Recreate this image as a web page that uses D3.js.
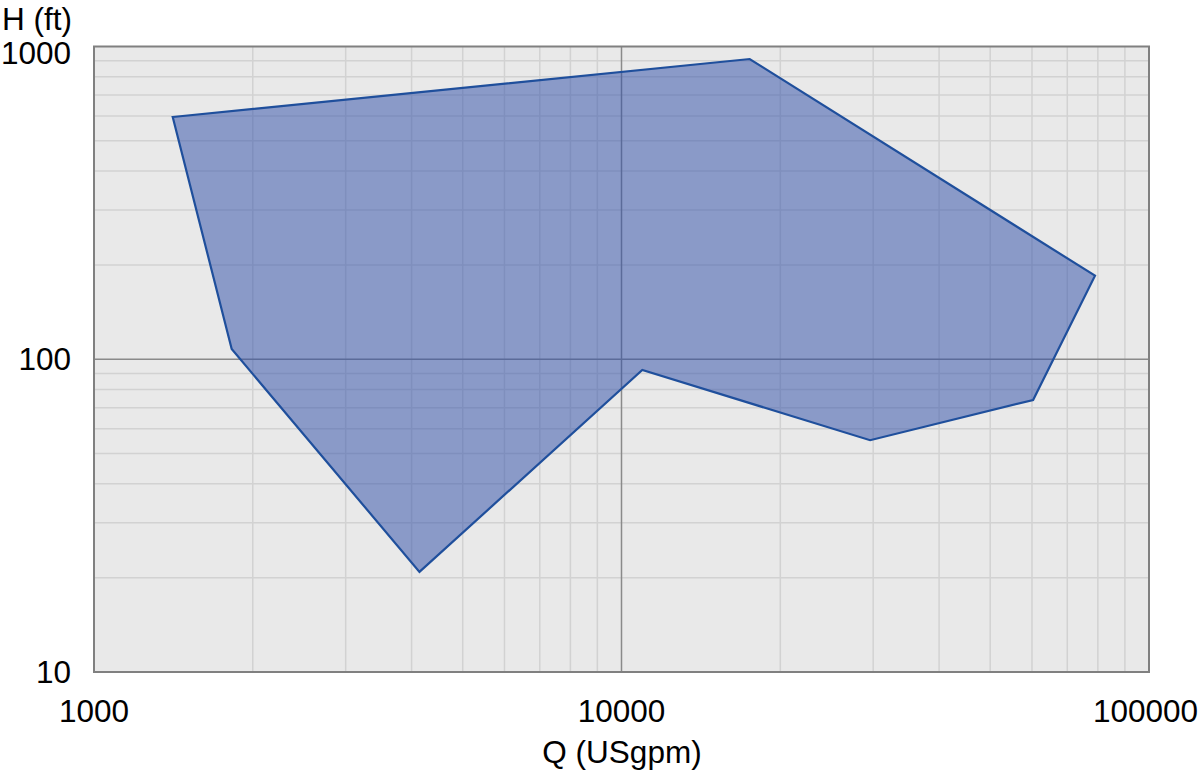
<!DOCTYPE html>
<html>
<head>
<meta charset="utf-8">
<script src="https://cdn.jsdelivr.net/npm/d3@7"></script>
<style>
  html, body { margin: 0; padding: 0; background: #fff; }
  svg { display: block; }
  text { font-family: "Liberation Sans", Arial, Helvetica, sans-serif; fill: #000; }
</style>
</head>
<body>
<div id="chart"></div>
<script>
// Operating envelope (polygon corners), flow Q in USgpm and head H in ft
const flowQ = [1410, 17500, 79000, 60300, 29600, 10950, 4140, 1824];
const headH = [595, 912, 185, 74.1, 55.1, 92.4, 20.9, 107.8];

const xTicks = [1000, 10000, 100000];
const yTicks = [10, 100, 1000];
const xTitle = "Q (USgpm)";
const yTitle = "H (ft)";

const W = 1200, H = 771;
const plot = { left: 94, top: 46.5, right: 1149, bottom: 672 };
const fontSize = "31.5px";

const svg = d3.select("#chart").append("svg")
    .attr("width", W)
    .attr("height", H);

const x = d3.scaleLog().domain([1000, 100000]).range([plot.left, plot.right]);
const y = d3.scaleLog().domain([10, 1000]).range([plot.bottom, plot.top]);

// background
svg.append("rect")
    .attr("x", plot.left)
    .attr("y", plot.top)
    .attr("width", plot.right - plot.left)
    .attr("height", plot.bottom - plot.top)
    .attr("fill", "#e9e9e9");

// minor grid
const minorX = x.ticks().filter(v => !xTicks.includes(v));
const minorY = y.ticks().filter(v => !yTicks.includes(v));

svg.append("g").selectAll("line")
    .data(minorX)
    .enter().append("line")
        .attr("x1", d => x(d)).attr("x2", d => x(d))
        .attr("y1", plot.top).attr("y2", plot.bottom)
        .attr("stroke", "#d2d2d2")
        .attr("stroke-width", 1.5);

svg.append("g").selectAll("line")
    .data(minorY)
    .enter().append("line")
        .attr("x1", plot.left).attr("x2", plot.right)
        .attr("y1", d => y(d)).attr("y2", d => y(d))
        .attr("stroke", "#d2d2d2")
        .attr("stroke-width", 1.5);

// major grid (inner decades only)
svg.append("g").selectAll("line")
    .data(xTicks.slice(1, -1))
    .enter().append("line")
        .attr("x1", d => x(d)).attr("x2", d => x(d))
        .attr("y1", plot.top).attr("y2", plot.bottom)
        .attr("stroke", "#8a8a8a")
        .attr("stroke-width", 1.5);

svg.append("g").selectAll("line")
    .data(yTicks.slice(1, -1))
    .enter().append("line")
        .attr("x1", plot.left).attr("x2", plot.right)
        .attr("y1", d => y(d)).attr("y2", d => y(d))
        .attr("stroke", "#8a8a8a")
        .attr("stroke-width", 1.5);

// envelope
const envelope = flowQ.map((q, i) => [x(q), y(headH[i])]);
svg.append("path")
    .attr("d", d3.line()(envelope) + "Z")
    .attr("fill", "rgba(43,75,167,0.5)")
    .attr("stroke", "#1f4f9c")
    .attr("stroke-width", 2.2)
    .attr("stroke-linejoin", "miter");

// frame
svg.append("rect")
    .attr("x", plot.left)
    .attr("y", plot.top)
    .attr("width", plot.right - plot.left)
    .attr("height", plot.bottom - plot.top)
    .attr("fill", "none")
    .attr("stroke", "#808080")
    .attr("stroke-width", 2);

// y tick labels
svg.append("g").selectAll("text")
    .data(yTicks)
    .enter().append("text")
        .attr("x", 71)
        .attr("y", d => Math.max(y(d) + 11, 64))
        .attr("text-anchor", "end")
        .attr("font-size", fontSize)
        .text(d => d);

// x tick labels
svg.append("g").selectAll("text")
    .data(xTicks)
    .enter().append("text")
        .attr("x", d => Math.min(x(d), 1145.5))
        .attr("y", 722)
        .attr("text-anchor", "middle")
        .attr("font-size", fontSize)
        .text(d => d);

// axis titles
svg.append("text")
    .attr("x", 72)
    .attr("y", 30)
    .attr("text-anchor", "end")
    .attr("font-size", fontSize)
    .text(yTitle);

svg.append("text")
    .attr("x", 622)
    .attr("y", 763)
    .attr("text-anchor", "middle")
    .attr("font-size", fontSize)
    .text(xTitle);
</script>
</body>
</html>
